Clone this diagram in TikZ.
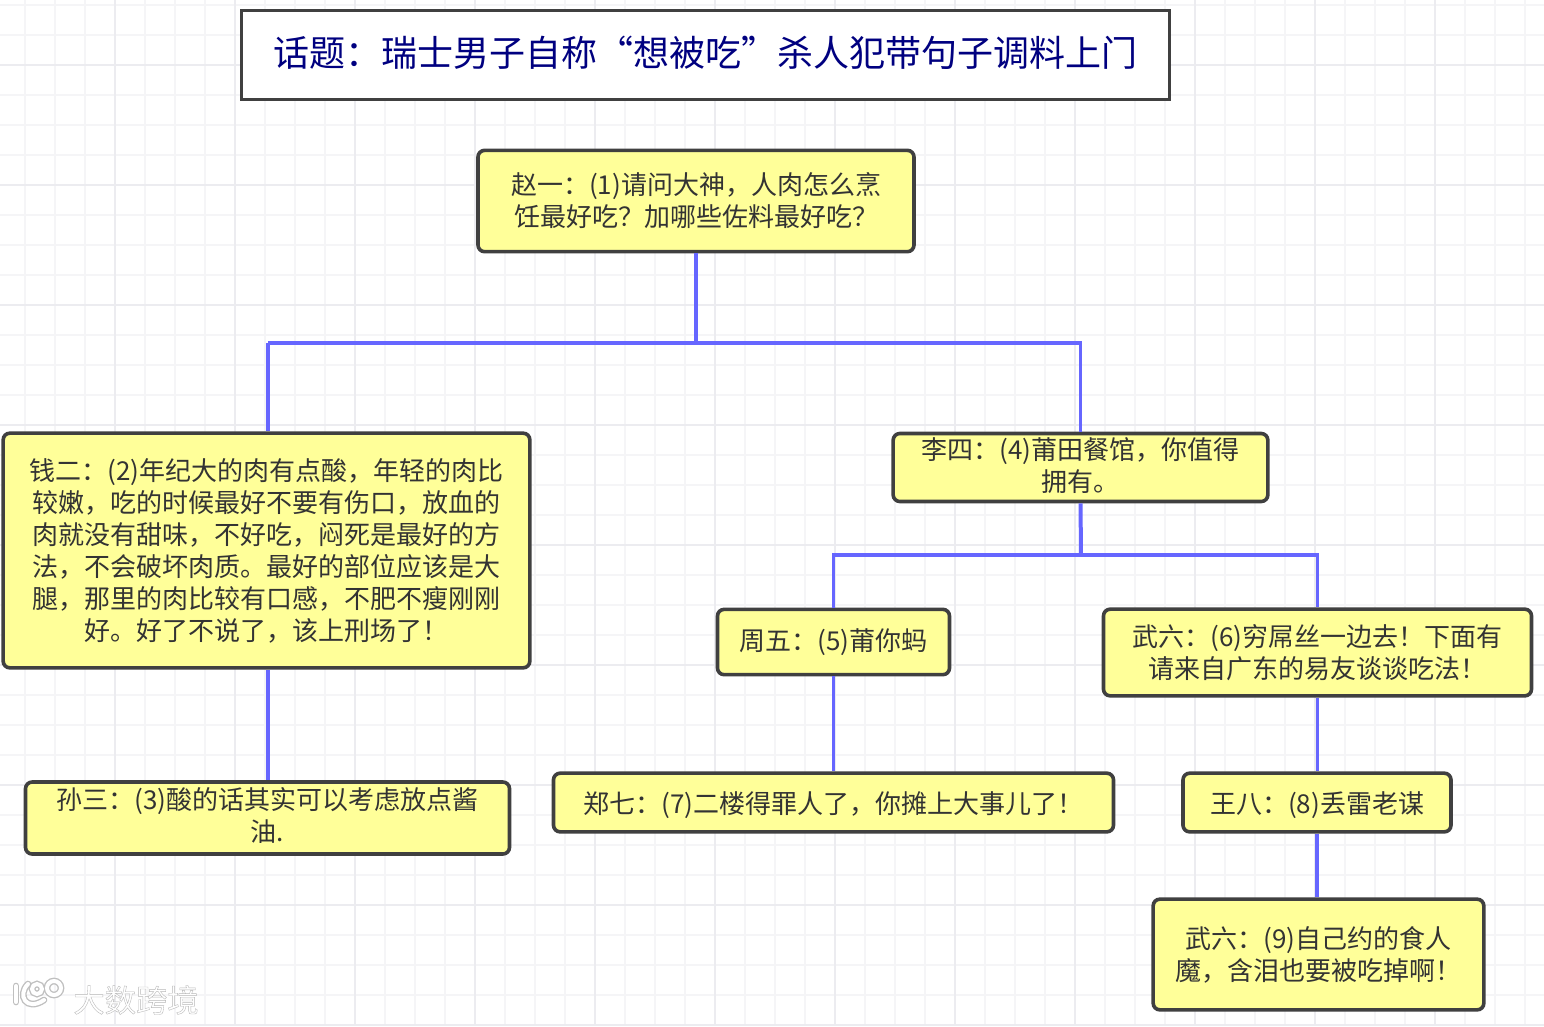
\documentclass[tikz,border=0pt]{standalone}
\usepackage{xcolor}
\usepackage{fontspec}
\setmainfont{Noto Sans CJK SC}
\newfontfamily\markfont[FakeBold=1.2]{Noto Sans CJK SC}
\definecolor{notefill}{HTML}{FFFF99}
\definecolor{noteline}{HTML}{404040}
\definecolor{notetext}{HTML}{333333}
\definecolor{linkblue}{HTML}{6666FF}
\definecolor{titleblue}{HTML}{000080}
\definecolor{gridminor}{HTML}{F5F5F7}
\definecolor{gridmajor}{HTML}{ECECF0}
\newcommand{\txtup}{\rule[-5pt]{0pt}{1pt}}
\newcommand{\txtdown}{\rule{0pt}{20pt}}
\tikzset{
    note/.style={draw=noteline,fill=notefill,line width=2.7pt,rounded corners=5pt,align=center,
        text=notetext,font=\fontsize{19.5}{24}\selectfont,inner sep=0pt},
    titlebox/.style={draw=noteline,fill=white,line width=2.7pt,text=titleblue,
        font=\fontsize{27}{32}\selectfont,inner sep=0pt},
    link/.style={draw=linkblue,line width=2.4pt},
    trunk/.style={draw=linkblue,line width=3pt},
    markline/.style={draw=gray!50,line width=5pt,line cap=round},
    markfill/.style={draw=white,line width=3pt,line cap=round}
}
\begin{document}
\begin{tikzpicture}[x=0.75pt,y=-0.75pt]
    \useasboundingbox (0,0) rectangle (1544,1026);
    \fill[white] (0,0) rectangle (1544,1026);
    % grid
    \foreach \gx in {25,55,...,1535} \draw[gridminor,line width=1.5pt] (\gx,0)--(\gx,1026);
    \foreach \gy in {5,35,...,1025} \draw[gridminor,line width=1.5pt] (0,\gy)--(1544,\gy);
    \foreach \gx in {115,235,...,1535} \draw[gridmajor,line width=1.5pt] (\gx,0)--(\gx,1026);
    \foreach \gy in {65,185,...,1025} \draw[gridmajor,line width=1.5pt] (0,\gy)--(1544,\gy);
    % boxes
    \node[titlebox,minimum width=696pt,minimum height=67pt] (topic) at (705.5,55) {\txtup 话题：瑞士男子自称“想被吃”杀人犯带句子调料上门};
    \node[note,minimum width=327pt,minimum height=76pt] (zhao) at (696,201) {赵一：(1)请问大神，人肉怎么烹\\饪最好吃？加哪些佐料最好吃？};
    \node[note,minimum width=395pt,minimum height=176pt] (qian) at (266.5,550.5) {钱二：(2)年纪大的肉有点酸，年轻的肉比\\较嫩，吃的时候最好不要有伤口，放血的\\肉就没有甜味，不好吃，闷死是最好的方\\法，不会破坏肉质。最好的部位应该是大\\腿，那里的肉比较有口感，不肥不瘦刚刚\\好。好了不说了，该上刑场了！};
    \node[note,minimum width=281pt,minimum height=51pt] (li) at (1080.5,467.5) {李四：(4)莆田餐馆，你值得\\拥有。\txtup};
    \node[note,minimum width=174pt,minimum height=49pt] (zhou) at (833.5,642) {周五：(5)莆你蚂};
    \node[note,minimum width=321pt,minimum height=65pt] (wu) at (1317.5,652.5) {武六：(6)穷屌丝一边去！下面有\\请来自广东的易友谈谈吃法！};
    \node[note,minimum width=363pt,minimum height=54pt] (sun) at (267.5,818) {孙三：(3)酸的话其实可以考虑放点酱\\油.\txtup};
    \node[note,minimum width=420pt,minimum height=44pt] (zheng) at (833.5,802.5) {\txtdown 郑七：(7)二楼得罪人了，你摊上大事儿了！};
    \node[note,minimum width=201pt,minimum height=44pt] (wang) at (1317,802.5) {\txtdown 王八：(8)丢雷老谋};
    \node[note,minimum width=248pt,minimum height=83pt] (wuend) at (1318.5,954.5) {武六：(9)自己约的食人\\魔，含泪也要被吃掉啊！};
    % connectors
    \coordinate (forktop) at (696,343);
    \coordinate (forkli) at (1081,555);
    \draw[trunk] (zhao.south)--(forktop);
    \draw[link] (qian.north |- forktop) ++(1.5,0) coordinate (qianup)--(forktop)--(li.north |- forktop)--(li.north);
    \draw[link] (qianup)--(qianup |- qian.north);
    \draw[trunk] (li.south)--(forkli);
    \draw[link] (zhou)--(zhou |- forkli)--(wu |- forkli)--(wu);
    \draw[link] (qianup |- qian.south)--(qianup |- sun.north);
    \draw[link] (zhou.south)--(zheng.north);
    \draw[link] (wu.south)--(wu.south |- wang.north);
    \draw[link] (wang.south)--(wang.south |- wuend.north);
    % watermark
    \foreach \mk in {markline,markfill}{
        \draw[\mk] (16,986)--(16,1002);
        \draw[\mk] (28,984) .. controls (17,995) and (26,1012) .. (44,1000);
        \draw[\mk] (37,989) circle (5);
        \draw[\mk] (54,988) circle (7);
    }
    \node[inner sep=0pt] (mark) at (136,1000) {\markfont\fontsize{23.5}{24}\selectfont\color{white}\special{pdf:code 0.72 G}大数跨境};
\end{tikzpicture}
\end{document}
